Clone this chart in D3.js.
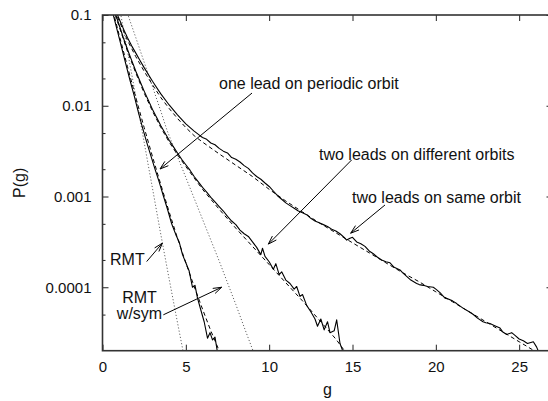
<!DOCTYPE html>
<html><head><meta charset="utf-8">
<script src="https://cdn.jsdelivr.net/npm/d3@7"></script>
<style>
html,body{margin:0;padding:0;background:#fff;}
svg{display:block;font-family:"Liberation Sans",Arial,Helvetica,sans-serif;}
</style></head><body>
<svg id="chart" width="548" height="401"></svg>
<script>
// ---------- data ----------
const xTicks = [0, 5, 10, 15, 20, 25];
const yMajorTicks = [0.1, 0.01, 0.001, 0.0001];
const yTickLabels = ["0.1", "0.01", "0.001", "0.0001"];
const yMinorTicks = [0.05, 0.02, 0.005, 0.002, 5e-4, 2e-4, 5e-5];

// two leads on same orbit (data, solid)
const gSame = [0.5,0.9,1.25,1.5,1.75,2.0,2.25,2.5,3.0,3.5,4.0,4.5,5.0,5.5,5.85,6.0,6.25,6.5,6.75,7.0,7.25,7.5,7.75,8.0,8.25,8.5,8.75,9.0,9.25,9.5,9.75,10.0,10.25,10.5,10.75,11.0,11.25,11.5,11.75,12.0,12.25,12.5,12.75,13.0,13.25,13.5,13.75,14.0,14.25,14.5,14.65,14.85,15.0,15.25,15.5,15.75,16.0,16.25,16.5,16.75,17.0,17.25,17.5,17.85,18.0,18.25,18.5,18.85,19.0,19.25,19.5,19.85,20.0,20.25,20.55,20.75,21.0,21.25,21.63,22.0,22.25,22.5,22.83,23.0,23.25,23.5,23.85,24.0,24.25,24.55,24.75,25.0,25.25,25.5,25.85,26.05,26.25];
const pSame = [1.66e-1,1.00e-1,7.08e-2,5.62e-2,4.57e-2,3.80e-2,3.16e-2,2.63e-2,1.86e-2,1.35e-2,1.02e-2,7.94e-3,6.31e-3,5.25e-3,4.68e-3,4.47e-3,4.27e-3,3.89e-3,3.72e-3,3.39e-3,3.16e-3,3.02e-3,2.69e-3,2.57e-3,2.40e-3,2.19e-3,2.04e-3,1.82e-3,1.66e-3,1.55e-3,1.41e-3,1.29e-3,1.15e-3,1.02e-3,9.33e-4,8.51e-4,7.94e-4,7.41e-4,6.92e-4,6.61e-4,6.31e-4,5.75e-4,5.37e-4,5.13e-4,4.90e-4,4.68e-4,4.37e-4,4.17e-4,3.89e-4,3.55e-4,3.31e-4,3.47e-4,3.55e-4,3.16e-4,3.02e-4,2.82e-4,2.51e-4,2.34e-4,2.14e-4,2.00e-4,1.91e-4,1.86e-4,1.66e-4,1.55e-4,1.45e-4,1.32e-4,1.20e-4,1.10e-4,1.07e-4,1.05e-4,1.02e-4,1.00e-4,9.55e-5,8.71e-5,7.59e-5,7.41e-5,7.08e-5,6.61e-5,5.89e-5,5.37e-5,5.01e-5,4.57e-5,4.17e-5,4.07e-5,3.98e-5,3.80e-5,3.55e-5,3.24e-5,3.02e-5,3.16e-5,2.95e-5,2.69e-5,2.57e-5,2.40e-5,2.51e-5,2.19e-5,1.78e-5];
// two leads on same orbit (fit, dashed)
const gSameFit = [0.5,0.9,1.5,2.0,2.5,3.0,3.5,4.0,4.5,5.0,5.5,6.0,7.0,8.0,9.0,10.0,11.0,12.0,13.0,14.0,15.0,16.0,17.0,18.0,19.0,20.0,21.0,22.0,23.0,24.0,25.0,26.0,26.3];
const pSameFit = [1.58e-1,9.55e-2,5.25e-2,3.47e-2,2.40e-2,1.70e-2,1.23e-2,9.33e-3,7.24e-3,5.75e-3,4.68e-3,3.98e-3,2.95e-3,2.21e-3,1.66e-3,1.20e-3,8.91e-4,6.76e-4,5.13e-4,3.98e-4,3.09e-4,2.40e-4,1.86e-4,1.45e-4,1.15e-4,8.91e-5,6.92e-5,5.37e-5,4.17e-5,3.24e-5,2.51e-5,1.95e-5,1.82e-5];

// two leads on different orbits (data, solid)
const gDiff = [0.5,0.8,1.0,1.25,1.5,1.75,2.0,2.25,2.5,2.75,3.0,3.25,3.5,3.75,4.0,4.25,4.5,4.75,5.0,5.25,5.5,5.75,6.0,6.25,6.5,6.75,7.0,7.25,7.5,7.75,8.0,8.25,8.5,8.75,9.0,9.25,9.5,9.6,9.75,10.0,10.25,10.4,10.6,10.75,11.0,11.25,11.5,11.65,11.85,12.0,12.25,12.5,12.75,12.9,13.1,13.3,13.5,13.65,13.9,14.05,14.25,14.45];
const pDiff = [1.48e-1,1.00e-1,7.76e-2,5.62e-2,4.17e-2,3.16e-2,2.40e-2,1.86e-2,1.45e-2,1.15e-2,9.12e-3,7.41e-3,6.03e-3,5.01e-3,4.17e-3,3.55e-3,3.02e-3,2.57e-3,2.24e-3,1.95e-3,1.66e-3,1.45e-3,1.26e-3,1.12e-3,9.77e-4,8.71e-4,7.76e-4,6.92e-4,6.03e-4,5.37e-4,4.90e-4,4.27e-4,3.89e-4,3.63e-4,3.16e-4,2.75e-4,2.29e-4,2.69e-4,2.19e-4,1.91e-4,1.58e-4,1.82e-4,1.38e-4,1.48e-4,1.20e-4,1.10e-4,9.55e-5,1.02e-4,7.94e-5,8.32e-5,6.31e-5,5.37e-5,4.47e-5,3.72e-5,4.47e-5,3.39e-5,4.17e-5,3.16e-5,3.31e-5,4.37e-5,2.40e-5,1.91e-5];
// two leads on different orbits (fit, dashed)
const gDiffFit = [0.5,0.8,1.5,2.0,2.5,3.0,3.5,4.0,4.5,5.0,6.0,7.0,8.0,9.0,10.0,11.0,12.0,13.0,14.0,14.6];
const pDiffFit = [1.41e-1,9.55e-2,3.98e-2,2.29e-2,1.38e-2,8.71e-3,5.75e-3,3.98e-3,2.88e-3,2.14e-3,1.20e-3,7.24e-4,4.47e-4,2.82e-4,1.78e-4,1.12e-4,7.08e-5,4.37e-5,2.69e-5,1.91e-5];

// one lead on periodic orbit (data, solid)
const gOne = [0.4,0.65,0.9,1.15,1.4,1.65,1.9,2.15,2.4,2.65,2.9,3.15,3.4,3.65,3.9,4.15,4.4,4.6,4.8,5.0,5.2,5.4,5.55,5.7,5.9,6.1,6.3,6.45,6.6,6.75,6.9];
const pOne = [1.51e-1,1.00e-1,6.61e-2,4.37e-2,2.88e-2,1.91e-2,1.29e-2,8.51e-3,5.75e-3,3.98e-3,2.82e-3,2.00e-3,1.45e-3,1.02e-3,7.24e-4,5.01e-4,3.80e-4,3.16e-4,2.29e-4,1.86e-4,1.51e-4,1.00e-4,1.05e-4,7.59e-5,5.62e-5,4.17e-5,2.75e-5,3.16e-5,2.63e-5,2.82e-5,1.91e-5];
// one lead on periodic orbit (fit, dashed)
const gOneFit = [0.4,0.65,1.0,1.5,2.0,2.5,3.0,3.5,4.0,4.5,5.0,5.5,6.0,6.5,7.0,7.3];
const pOneFit = [1.58e-1,1.07e-1,6.03e-2,2.69e-2,1.23e-2,5.75e-3,2.75e-3,1.35e-3,6.76e-4,3.47e-4,1.86e-4,1.02e-4,5.75e-5,3.31e-5,2.00e-5,1.48e-5];

// RMT predictions (dotted)
const gRMT = [0.9,1.1,1.5,2.0,2.37,2.75,3.0,3.45,4.0,4.5,4.85];
const pRMT = [1.58e-1,1.00e-1,3.98e-2,1.26e-2,5.37e-3,2.19e-3,1.23e-3,4.27e-4,1.23e-4,4.07e-5,1.91e-5];
const gRMTsym = [1.3,1.53,2.0,2.5,3.0,3.5,3.87,4.5,5.0,5.5,6.0,6.5,7.0,7.5,8.0,8.5,9.03,9.2];
const pRMTsym = [1.32e-1,1.00e-1,5.62e-2,3.02e-2,1.62e-2,8.71e-3,5.37e-3,2.75e-3,1.62e-3,9.55e-4,5.62e-4,3.31e-4,1.95e-4,1.12e-4,6.46e-5,3.63e-5,2.00e-5,1.66e-5];

// annotation labels and arrows (in data units)
const labelTexts = ["one lead on periodic orbit","two leads on different orbits","two leads on same orbit","RMT","RMT","w/sym"];
const labelG = [6.99, 12.99, 14.97, 0.45, 2.22, 2.22];
const labelP = [1.53e-2, 2.50e-3, 8.51e-4, 1.77e-4, 6.73e-5, 4.43e-5];
const labelAnchor = ["start","start","start","start","middle","middle"];
const arrowFromG = [8.97, 14.95, 16.95, 2.65, 3.65];
const arrowFromP = [1.38e-2, 2.53e-3, 8.07e-4, 1.92e-4, 4.97e-5];
const arrowToG = [3.45, 9.95, 14.89, 3.59, 7.15];
const arrowToP = [2.01e-3, 2.99e-4, 3.94e-4, 3.06e-4, 1.00e-4];

// ---------- drawing ----------
const svg = d3.select("#chart");
const L = 102.5, R = 552.5, T = 15, B = 350.7;
const x = d3.scaleLinear().domain([0, 27]).range([L, R]);
const y = d3.scaleLog().domain([2e-5, 0.1]).range([B, T]);

svg.append("defs").append("clipPath").attr("id","plotclip")
  .append("rect").attr("x", L).attr("y", T).attr("width", R - L).attr("height", B - T);

function styleAxis(g, fs) {
  g.select(".domain").remove();
  g.selectAll(".tick line").attr("stroke", "#222");
  g.selectAll("text").attr("font-size", fs).attr("fill", "#111")
    .attr("font-family", '"Liberation Sans",Arial,Helvetica,sans-serif');
}

// y axes
svg.append("g").attr("transform", `translate(${L},0)`)
  .call(d3.axisLeft(y).tickValues(yMajorTicks).tickSize(-6).tickPadding(11)
    .tickFormat((d, i) => yTickLabels[i]))
  .call(g => styleAxis(g, 15));
svg.append("g").attr("transform", `translate(${L},0)`)
  .call(d3.axisLeft(y).tickValues(yMinorTicks).tickSize(-3).tickFormat(""))
  .call(g => styleAxis(g, 15));
svg.append("g").attr("transform", `translate(${R},0)`)
  .call(d3.axisRight(y).tickValues(yMajorTicks).tickSize(-6).tickFormat(""))
  .call(g => styleAxis(g, 15));
svg.append("g").attr("transform", `translate(${R},0)`)
  .call(d3.axisRight(y).tickValues(yMinorTicks).tickSize(-3).tickFormat(""))
  .call(g => styleAxis(g, 15));
// x axes
svg.append("g").attr("transform", `translate(0,${B})`)
  .call(d3.axisBottom(x).tickValues(xTicks).tickSize(-6).tickPadding(11).tickFormat(d3.format("d")))
  .call(g => styleAxis(g, 15));
svg.append("g").attr("transform", `translate(0,${T})`)
  .call(d3.axisTop(x).tickValues(xTicks).tickSize(-6).tickFormat(""))
  .call(g => styleAxis(g, 15));

// series
const line = d3.line().x(d => x(d[0])).y(d => y(d[1]));
const zip = (a, b) => a.map((v, i) => [v, b[i]]);
const plot = svg.append("g").attr("clip-path", "url(#plotclip)");
const series = [
  {g: gRMT, p: pRMT, stroke: "#666", dash: "1.2,2", w: 1},
  {g: gRMTsym, p: pRMTsym, stroke: "#666", dash: "1.2,2", w: 1},
  {g: gOneFit, p: pOneFit, stroke: "#000", dash: "4,3", w: 1},
  {g: gDiffFit, p: pDiffFit, stroke: "#000", dash: "4,3", w: 1},
  {g: gSameFit, p: pSameFit, stroke: "#000", dash: "4,3", w: 1},
  {g: gOne, p: pOne, stroke: "#000", dash: null, w: 1.1},
  {g: gDiff, p: pDiff, stroke: "#000", dash: null, w: 1.1},
  {g: gSame, p: pSame, stroke: "#000", dash: null, w: 1.1}
];
series.forEach(s => {
  plot.append("path").datum(zip(s.g, s.p))
    .attr("d", line).attr("fill", "none")
    .attr("stroke", s.stroke).attr("stroke-width", s.w)
    .attr("stroke-dasharray", s.dash)
    .attr("stroke-linejoin", "round");
});

// border
svg.append("rect").attr("x", L).attr("y", T).attr("width", R - L).attr("height", B - T)
  .attr("fill", "none").attr("stroke", "#333").attr("stroke-width", 1.6);

// arrows
const ann = svg.append("g").attr("stroke", "#000").attr("stroke-width", 1).attr("fill", "none");
arrowFromG.forEach((g0, i) => {
  const x1 = x(g0), y1 = y(arrowFromP[i]), x2 = x(arrowToG[i]), y2 = y(arrowToP[i]);
  const th = Math.atan2(y2 - y1, x2 - x1), hl = 9, ph = 18 * Math.PI / 180;
  ann.append("path").attr("d",
    `M${x1},${y1}L${x2},${y2}` +
    `M${x2 - hl * Math.cos(th - ph)},${y2 - hl * Math.sin(th - ph)}L${x2},${y2}` +
    `L${x2 - hl * Math.cos(th + ph)},${y2 - hl * Math.sin(th + ph)}`);
});

// labels
labelTexts.forEach((t, i) => {
  svg.append("text").attr("x", x(labelG[i])).attr("y", y(labelP[i]))
    .attr("text-anchor", labelAnchor[i]).attr("font-size", 16).attr("fill", "#111")
    .text(t);
});

// axis titles
svg.append("text").attr("x", (L + R) / 2).attr("y", 395).attr("text-anchor", "middle")
  .attr("font-size", 16).attr("fill", "#111").text("g");
svg.append("text").attr("transform", `translate(25,${(T + B) / 2}) rotate(-90)`)
  .attr("text-anchor", "middle").attr("font-size", 16).attr("fill", "#111").text("P(g)");
</script>
</body></html>
